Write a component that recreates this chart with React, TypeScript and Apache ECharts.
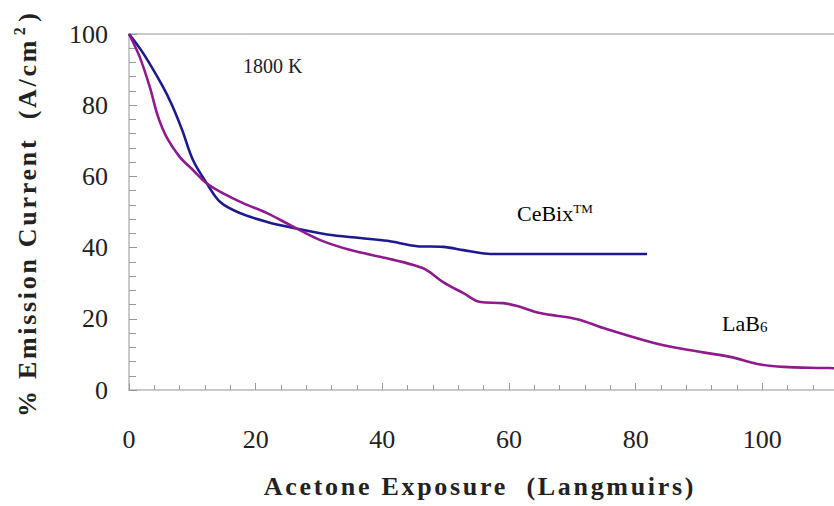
import React, { useEffect, useRef } from "react";
import * as echarts from "echarts";

const cebixX = [0, 2.2, 5.2, 6.8, 8.4, 10.1, 12.3, 14.4, 17.5, 21.8, 26, 31.3, 36.5, 40.8, 45.5, 49.6, 52.8, 55.5, 57.5, 65, 72, 81.8];
const cebixY = [100, 94.7, 85.7, 80, 73, 64.6, 58, 52.8, 49.7, 47.2, 45.5, 43.7, 42.7, 41.9, 40.4, 40.2, 39.3, 38.5, 38.2, 38.2, 38.2, 38.2];

const lab6X = [0, 1.7, 3.3, 4.6, 6, 8, 10.1, 12.3, 14.8, 18, 21.8, 26, 30.2, 35, 41.2, 44.9, 47, 49.6, 52.8, 55.5, 59.1, 61.3, 64.9, 70.8, 74.9, 82.3, 87.5, 94.9, 99.2, 103.3, 109.6, 112];
const lab6Y = [100, 93.5, 85, 76.7, 70.8, 65.5, 61.8, 58, 55.3, 52.5, 49.7, 45.8, 42.1, 39.3, 36.8, 35.1, 33.7, 30.3, 27.2, 24.7, 24.4, 23.6, 21.6, 19.9, 17.4, 13.5, 11.5, 9.3, 7.3, 6.5, 6.2, 6.1];

const xTickStep = 20;
const yTickStep = 20;

const serif = "Liberation Serif";

export default function App() {
  const ref = useRef<HTMLDivElement>(null);
  useEffect(() => {
    if (!ref.current) return;
    const chart = echarts.init(ref.current, undefined, { renderer: "svg" });
    const axisGray = "#b8b8b8";
    chart.setOption({
      animation: false,
      backgroundColor: "#ffffff",
      textStyle: { fontFamily: serif },
      grid: { left: 129, top: 34, width: 760, height: 356, containLabel: false, outerBoundsMode: "none" },
      xAxis: [
        {
          type: "value",
          min: 0,
          max: 120,
          interval: xTickStep,
          splitLine: { show: false },
          axisLine: { show: true, lineStyle: { color: axisGray, width: 1.5 } },
          axisTick: { show: true, inside: true, length: 7, lineStyle: { color: "#999" } },
          minorTick: { show: true, splitNumber: 5, length: 5, lineStyle: { color: "#999" } },
          axisLabel: { color: "#222", fontFamily: serif, fontSize: 26, margin: 36, showMaxLabel: false },
        },
        {
          type: "value",
          position: "top",
          min: 0,
          max: 120,
          splitLine: { show: false },
          axisLine: { show: true, lineStyle: { color: axisGray, width: 1.5 } },
          axisTick: { show: false },
          axisLabel: { show: false },
        },
      ],
      yAxis: {
        type: "value",
        min: 0,
        max: 100,
        interval: yTickStep,
        splitLine: { show: false },
        axisLine: { show: true, onZero: false, lineStyle: { color: axisGray, width: 1.5 } },
        axisTick: { show: true, inside: true, length: 8, lineStyle: { color: "#999" } },
        minorTick: { show: true, splitNumber: 5, length: 7, lineStyle: { color: "#999" } },
        axisLabel: { color: "#222", fontFamily: serif, fontSize: 26, margin: 21 },
      },
      series: [
        {
          name: "CeBix",
          type: "line",
          data: cebixX.map((x, i) => [x, cebixY[i]]),
          showSymbol: false,
          smooth: 0.35,
          lineStyle: { color: "#1c1a8e", width: 2.6 },
        },
        {
          name: "LaB6",
          type: "line",
          data: lab6X.map((x, i) => [x, lab6Y[i]]),
          showSymbol: false,
          smooth: 0.35,
          lineStyle: { color: "#8e1a8e", width: 2.6 },
        },
      ],
      graphic: [
        {
          type: "text",
          left: 243,
          top: 56,
          style: { text: "1800 K", fontFamily: serif, fontSize: 20, fill: "#222" },
        },
        {
          type: "text",
          left: 517,
          top: 202,
          style: {
            text: "{a|CeBix}{s|TM}",
            rich: {
              a: { fontFamily: serif, fontSize: 22, color: "#222", verticalAlign: "bottom" },
              s: { fontFamily: serif, fontSize: 13, color: "#222", verticalAlign: "top" },
            },
          },
        },
        {
          type: "text",
          left: 722,
          top: 312,
          style: {
            text: "{a|LaB}{s|6}",
            rich: {
              a: { fontFamily: serif, fontSize: 22, color: "#222", verticalAlign: "top" },
              s: { fontFamily: serif, fontSize: 15, color: "#222", verticalAlign: "bottom" },
            },
          },
        },
        {
          type: "text",
          x: 480,
          y: 486,
          style: {
            text: "Acetone Exposure  (Langmuirs)",
            fontFamily: serif,
            fontWeight: "bold",
            fontSize: 26,
            fill: "#222",
            align: "center",
            verticalAlign: "middle",
          },
        },
        {
          type: "text",
          x: 27,
          y: 417,
          rotation: Math.PI / 2,
          style: {
            text: "% Emission Current  (A/cm",
            fontFamily: serif,
            fontWeight: "bold",
            fontSize: 26,
            fill: "#222",
            align: "left",
            verticalAlign: "middle",
          },
        },
        {
          type: "text",
          x: 19,
          y: 30,
          rotation: Math.PI / 2,
          style: {
            text: "2",
            fontFamily: serif,
            fontWeight: "bold",
            fontSize: 16,
            fill: "#222",
            align: "center",
            verticalAlign: "middle",
          },
        },
        {
          type: "text",
          x: 27,
          y: 16,
          rotation: Math.PI / 2,
          style: {
            text: ")",
            fontFamily: serif,
            fontWeight: "bold",
            fontSize: 26,
            fill: "#222",
            align: "center",
            verticalAlign: "middle",
          },
        },
      ],
    });
    return () => chart.dispose();
  }, []);
  return (
    <>
      <style>{`#chartbox text[style*="bold"]{letter-spacing:2.7px}`}</style>
      <div
        id="chartbox"
        ref={ref}
        style={{ position: "fixed", left: 0, top: 0, width: 834, height: 506, background: "#fff" }}
      />
    </>
  );
}
